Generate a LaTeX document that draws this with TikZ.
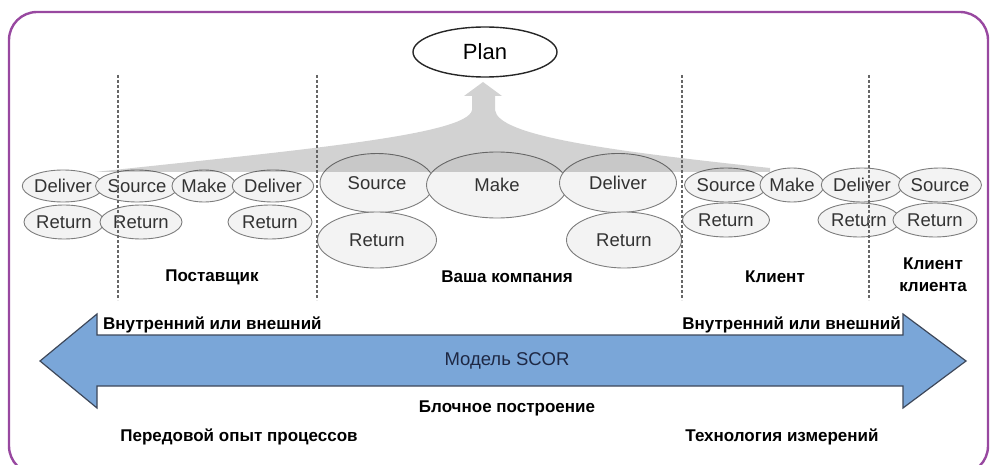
\documentclass[tikz,border=0pt]{standalone}
\usepackage{fontspec}
\setmainfont{Liberation Sans}
\usetikzlibrary{shapes.geometric}
\definecolor{framepurple}{RGB}{152,72,160}
\definecolor{scorblue}{RGB}{122,166,216}
\definecolor{scoredge}{RGB}{62,72,90}
\definecolor{scortext}{RGB}{30,40,68}
\definecolor{ellfill}{RGB}{243,243,243}
\definecolor{ellline}{RGB}{125,125,125}
\definecolor{funnelgray}{RGB}{210,210,210}
\newcommand\procfont{\fontsize{18.5}{20}\selectfont}
\newcommand\lblfont{\bfseries\fontsize{17}{22}\selectfont}
\tikzset{
  proc/.style 2 args={ellipse, draw=ellline, line width=0.9pt, fill=ellfill,
    minimum width=#1, minimum height=#2, inner sep=0pt, text=black!80, font=\procfont},
  planbox/.style={ellipse, draw=black!85, line width=1.4pt, fill=white,
    minimum width=144, minimum height=50, inner sep=0pt, font=\fontsize{22}{24}\selectfont},
  sep/.style={draw=black!60, line width=1.4pt, dash pattern=on 3pt off 2pt},
  lbl/.style={font=\lblfont, text=black, align=center, inner sep=1pt}
}
\begin{document}
\begin{tikzpicture}[x=1pt,y=-1pt]
\useasboundingbox (0,0) rectangle (990,465);
% frame
\draw[framepurple, line width=2.4pt, rounded corners=28pt] (9,12) rectangle (988,474);
% plan
\node[planbox] (plan) at (485,52) {Plan};
% supplier
\node[proc={80}{32}] (supdel) at (63,186) {Deliver};
\node[proc={80}{34}] (supret) at (64,222) {Return};
\node[proc={78}{32}] (supsrc) at (137,186) {Source};
\node[proc={82}{34}] (supsrcret) at (141,222) {Return};
\node[proc={62}{32}] (supmake) at (204,186) {Make};
\node[proc={80}{32}] (supdel2) at (273,186) {Deliver};
\node[proc={84}{34}] (supdelret) at (270,222) {Return};
% company
\node[proc={114}{59}] (cosrc) at (377,183) {Source};
\node[proc={141}{66}] (comake) at (497,185) {Make};
\node[proc={117}{59}] (codel) at (618,183) {Deliver};
\node[proc={119}{56}] (cosrcret) at (377,240) {Return};
\node[proc={115}{56}] (codelret) at (624,240) {Return};
% customer
\node[proc={82}{34}] (cusrc) at (726,185) {Source};
\node[proc={87}{34}] (cusrcret) at (726,220) {Return};
\node[proc={61}{34}] (cumake) at (792,185) {Make};
\node[proc={81}{34}] (cudel) at (862,185) {Deliver};
\node[proc={82}{34}] (cudelret) at (859,220) {Return};
\node[proc={74}{34}] (ccsrc) at (940,185) {Source};
\node[proc={84}{34}] (ccsrcret) at (935,220) {Return};
% funnel from plan
\fill[funnelgray, blend mode=multiply] (483,82) -- (502,96) -- (495,96) -- (495,110)
  .. controls (498,135) and (600,150) .. (770,168) -- (770,172) -- (95,172)
  .. controls (300,150) and (468,135) .. (472,110) -- (472,96) -- (464,96) -- cycle;
% separators
\foreach \x in {118,317,682,869}
  \draw[sep] (\x,75) -- (\x,300);
% labels
\node[lbl] (supplier) at (212,277) {Поставщик};
\node[lbl] (company) at (507,277) {Ваша компания};
\node[lbl] (customer) at (775,277) {Клиент};
\node[lbl] (custcust) at (933,275) {Клиент\\клиента};
% scor arrow
\draw[scoredge, fill=scorblue, line width=1.2pt] (40,361) -- (97,314) -- (97,335) -- (903,335)
  -- (903,314) -- (966,361) -- (903,408) -- (903,386) -- (97,386) -- (97,408) -- cycle;
\node[text=scortext, font=\fontsize{18.5}{20}\selectfont] (scor) at (507,361) {Модель SCOR};
\node[lbl, anchor=west] (intl) at (102,325) {Внутренний или внешний};
\node[lbl, anchor=east] (intr) at (902,325) {Внутренний или внешний};
\node[lbl] (blocks) at (507,408) {Блочное построение};
\node[lbl] (practice) at (239,437) {Передовой опыт процессов};
\node[lbl] (metrics) at (782,437) {Технология измерений};
\end{tikzpicture}
\end{document}
